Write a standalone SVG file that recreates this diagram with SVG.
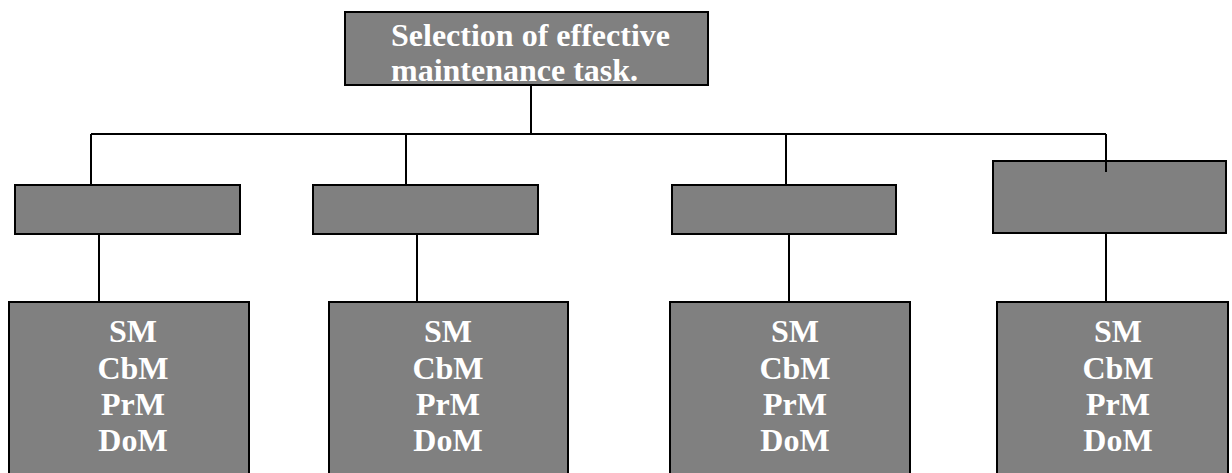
<svg xmlns="http://www.w3.org/2000/svg" width="1232" height="473" viewBox="0 0 1232 473">
<style>
.box{fill:#808080;stroke:#000;stroke-width:2}
.ln{stroke:#000;stroke-width:2;fill:none}
.t{font-family:"Liberation Serif","Times New Roman",serif;font-weight:bold;fill:#fff;font-size:32px}
.c{text-anchor:middle}
</style>
<rect width="1232" height="473" fill="#fff"/>
<g id="root">
<rect class="box" x="345" y="12" width="363" height="73"/>
<text class="t" x="391" y="46">Selection of effective</text>
<text class="t" x="391" y="81">maintenance task.</text>
</g>
<g id="mid1"><rect class="box" x="15" y="185" width="225" height="49"/></g>
<g id="mid2"><rect class="box" x="313" y="185" width="225" height="49"/></g>
<g id="mid3"><rect class="box" x="672" y="185" width="224" height="49"/></g>
<g id="mid4"><rect class="box" x="993" y="161" width="233" height="72"/></g>
<g id="leaf1"><rect class="box" x="9" y="302" width="240" height="172"/>
<text class="t c"><tspan x="133" y="342">SM</tspan><tspan x="133" y="379">CbM</tspan><tspan x="133" y="415">PrM</tspan><tspan x="133" y="451">DoM</tspan></text></g>
<g id="leaf2"><rect class="box" x="329" y="302" width="239" height="172"/>
<text class="t c"><tspan x="448" y="342">SM</tspan><tspan x="448" y="379">CbM</tspan><tspan x="448" y="415">PrM</tspan><tspan x="448" y="451">DoM</tspan></text></g>
<g id="leaf3"><rect class="box" x="670" y="302" width="240" height="172"/>
<text class="t c"><tspan x="795" y="342">SM</tspan><tspan x="795" y="379">CbM</tspan><tspan x="795" y="415">PrM</tspan><tspan x="795" y="451">DoM</tspan></text></g>
<g id="leaf4"><rect class="box" x="997" y="302" width="231" height="172"/>
<text class="t c"><tspan x="1118" y="342">SM</tspan><tspan x="1118" y="379">CbM</tspan><tspan x="1118" y="415">PrM</tspan><tspan x="1118" y="451">DoM</tspan></text></g>
<g id="connectors">
<path class="ln" d="M531,85 V134 M91,134 H1106 M91,134 V185 M406,134 V185 M786,134 V185 M1106,134 V172 M99,234 V302 M417,234 V302 M789,234 V302 M1106,233 V302"/>
</g>
</svg>
